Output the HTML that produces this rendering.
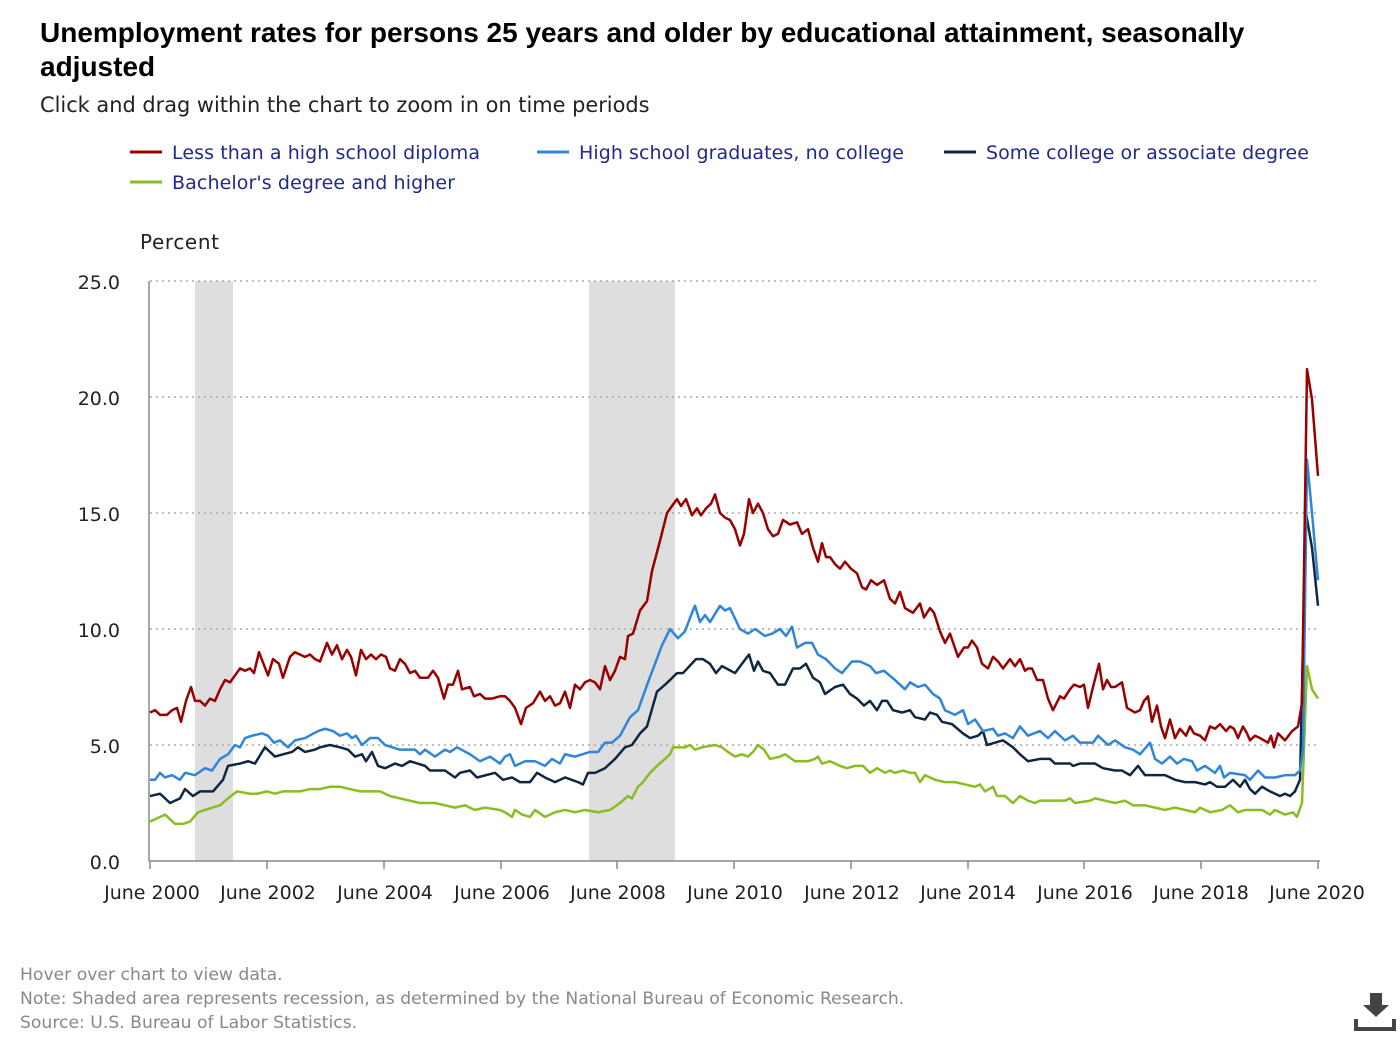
<!DOCTYPE html>
<html><head><meta charset="utf-8"><style>
body{margin:0;width:1400px;height:1040px;background:#fff;font-family:"Liberation Sans",sans-serif;overflow:hidden;position:relative}
.t{position:absolute;white-space:nowrap}
</style></head><body>
<div class="t" style="left:40px;top:16px;font-size:28px;font-weight:bold;line-height:34px;color:#000">Unemployment rates for persons 25 years and older by educational attainment, seasonally<br>adjusted</div>
<div class="t" style="left:40px;top:93px;font-size:20.9px;color:#222;font-family:'DejaVu Sans',sans-serif">Click and drag within the chart to zoom in on time periods</div>
<svg width="1400" height="1040" style="position:absolute;left:0;top:0" font-family="DejaVu Sans, sans-serif">
<g font-size="19" fill="#1f2a8c">
<line x1="130" y1="152" x2="162" y2="152" stroke="#990000" stroke-width="3"/><text x="172" y="159" textLength="308">Less than a high school diploma</text>
<line x1="537" y1="152" x2="569" y2="152" stroke="#2f86d9" stroke-width="3"/><text x="579" y="159" textLength="325">High school graduates, no college</text>
<line x1="944" y1="152" x2="976" y2="152" stroke="#0f2740" stroke-width="3"/><text x="986" y="159" textLength="323">Some college or associate degree</text>
<line x1="130" y1="182" x2="162" y2="182" stroke="#8abd22" stroke-width="3"/><text x="172" y="189" textLength="283">Bachelor's degree and higher</text>
</g>
<text x="140" y="249" font-size="20" fill="#222" textLength="79">Percent</text>
<rect x="195" y="281" width="38" height="580" fill="#dedede"/>
<rect x="589" y="281" width="86" height="580" fill="#dedede"/>
<g stroke="#aaa" stroke-width="1.5" stroke-dasharray="2,4">
<line x1="150" y1="281" x2="1320" y2="281"/><line x1="150" y1="397" x2="1320" y2="397"/><line x1="150" y1="513" x2="1320" y2="513"/><line x1="150" y1="629" x2="1320" y2="629"/><line x1="150" y1="745" x2="1320" y2="745"/>
</g>
<line x1="149" y1="281" x2="149" y2="861" stroke="#888" stroke-width="1.5"/>
<line x1="149" y1="861" x2="1320" y2="861" stroke="#888" stroke-width="1.5"/>
<g font-size="19" fill="#222" text-anchor="end">
<text x="120" y="289">25.0</text><text x="120" y="405">20.0</text><text x="120" y="521">15.0</text><text x="120" y="637">10.0</text><text x="120" y="753">5.0</text><text x="120" y="869">0.0</text>
</g>
<g stroke="#888" stroke-width="1.5">
<line x1="150" y1="861" x2="150" y2="869"/><line x1="267" y1="861" x2="267" y2="869"/><line x1="384" y1="861" x2="384" y2="869"/><line x1="501" y1="861" x2="501" y2="869"/><line x1="617" y1="861" x2="617" y2="869"/><line x1="734" y1="861" x2="734" y2="869"/><line x1="851" y1="861" x2="851" y2="869"/><line x1="968" y1="861" x2="968" y2="869"/><line x1="1084" y1="861" x2="1084" y2="869"/><line x1="1201" y1="861" x2="1201" y2="869"/><line x1="1318" y1="861" x2="1318" y2="869"/>
</g>
<g font-size="19" fill="#222" text-anchor="middle">
<text x="152" y="899">June 2000</text><text x="268" y="899">June 2002</text><text x="385" y="899">June 2004</text><text x="502" y="899">June 2006</text><text x="618" y="899">June 2008</text><text x="735" y="899">June 2010</text><text x="852" y="899">June 2012</text><text x="968" y="899">June 2014</text><text x="1085" y="899">June 2016</text><text x="1201" y="899">June 2018</text><text x="1317" y="899">June 2020</text>
</g>
<g transform="translate(0,861) scale(1,-23.2)" fill="none" stroke-width="2.5" stroke-linejoin="round">
<polyline vector-effect="non-scaling-stroke" stroke="#8abd22" points="150,1.7 155,1.8 165,2.0 175,1.6 183,1.6 190,1.7 198,2.1 205,2.2 212,2.3 220,2.4 228,2.7 237,3.0 250,2.9 257,2.9 267,3.0 275,2.9 283,3.0 300,3.0 310,3.1 320,3.1 330,3.2 340,3.2 350,3.1 360,3.0 380,3.0 390,2.8 400,2.7 410,2.6 420,2.5 435,2.5 445,2.4 455,2.3 465,2.4 475,2.2 485,2.3 500,2.2 505,2.1 512,1.9 515,2.2 522,2.0 530,1.9 535,2.2 545,1.9 555,2.1 565,2.2 575,2.1 585,2.2 598,2.1 610,2.2 620,2.5 628,2.8 632,2.7 638,3.2 643,3.4 650,3.8 657,4.1 665,4.4 670,4.6 673,4.9 685,4.9 690,5.0 695,4.8 702,4.9 715,5.0 722,4.9 728,4.7 735,4.5 742,4.6 748,4.5 753,4.7 758,5.0 764,4.8 770,4.4 780,4.5 785,4.6 795,4.3 808,4.3 815,4.4 818,4.5 822,4.2 830,4.3 840,4.1 847,4.0 855,4.1 863,4.1 870,3.8 877,4.0 885,3.8 890,3.9 895,3.8 903,3.9 910,3.8 915,3.8 920,3.4 925,3.7 935,3.5 945,3.4 955,3.4 965,3.3 975,3.2 980,3.3 985,3.0 993,3.2 997,2.8 1005,2.8 1013,2.5 1020,2.8 1028,2.6 1035,2.5 1040,2.6 1055,2.6 1065,2.6 1070,2.7 1075,2.5 1090,2.6 1095,2.7 1105,2.6 1115,2.5 1125,2.6 1133,2.4 1145,2.4 1155,2.3 1165,2.2 1175,2.3 1185,2.2 1195,2.1 1200,2.3 1210,2.1 1222,2.2 1230,2.4 1238,2.1 1245,2.2 1262,2.2 1270,2.0 1275,2.2 1285,2.0 1293,2.1 1297,1.9 1302,2.5 1307,8.4 1312,7.4 1318,7.0"/>
<polyline vector-effect="non-scaling-stroke" stroke="#0f2740" points="150,2.8 160,2.9 170,2.5 180,2.7 185,3.1 193,2.8 200,3.0 213,3.0 223,3.5 228,4.1 240,4.2 248,4.3 255,4.2 262,4.7 265,4.9 275,4.5 283,4.6 292,4.7 298,4.9 305,4.7 315,4.8 320,4.9 330,5.0 340,4.9 348,4.8 355,4.5 362,4.6 366,4.3 372,4.7 378,4.1 385,4.0 395,4.2 402,4.1 410,4.3 425,4.1 430,3.9 445,3.9 455,3.6 460,3.8 470,3.9 477,3.6 495,3.8 503,3.5 512,3.6 520,3.4 530,3.4 537,3.8 545,3.6 555,3.4 565,3.6 578,3.4 583,3.3 588,3.8 595,3.8 605,4.0 615,4.4 625,4.9 632,5.0 640,5.5 647,5.8 657,7.3 665,7.6 670,7.8 677,8.1 683,8.1 696,8.7 703,8.7 710,8.5 716,8.1 722,8.4 735,8.1 742,8.5 749,8.9 754,8.2 758,8.6 763,8.2 770,8.1 778,7.6 785,7.6 793,8.3 800,8.3 806,8.5 813,7.9 820,7.7 825,7.2 835,7.5 843,7.6 850,7.2 857,7.0 864,6.7 870,6.9 877,6.5 882,6.9 887,6.9 893,6.5 902,6.4 910,6.5 915,6.2 925,6.1 930,6.4 937,6.3 942,6.0 952,5.9 963,5.5 970,5.3 978,5.4 983,5.6 987,5.0 995,5.1 1003,5.2 1013,4.9 1020,4.6 1028,4.3 1040,4.4 1050,4.4 1055,4.2 1070,4.2 1073,4.1 1080,4.2 1095,4.2 1103,4.0 1115,3.9 1122,3.9 1130,3.7 1138,4.1 1145,3.7 1155,3.7 1165,3.7 1175,3.5 1185,3.4 1195,3.4 1205,3.3 1210,3.4 1217,3.2 1225,3.2 1233,3.5 1240,3.2 1245,3.5 1250,3.1 1255,2.9 1262,3.2 1270,3.0 1280,2.8 1285,2.9 1290,2.8 1295,3.0 1300,3.5 1306,15.0 1312,13.5 1318,11.0"/>
<polyline vector-effect="non-scaling-stroke" stroke="#2f86d9" points="150,3.5 155,3.5 160,3.8 165,3.6 172,3.7 180,3.5 185,3.8 195,3.7 205,4.0 212,3.9 220,4.4 228,4.6 235,5.0 240,4.9 245,5.3 252,5.4 262,5.5 268,5.4 274,5.1 280,5.2 288,4.9 295,5.2 305,5.3 318,5.6 325,5.7 333,5.6 340,5.4 347,5.5 352,5.3 356,5.4 362,5.0 370,5.3 378,5.3 385,5.0 400,4.8 415,4.8 420,4.6 425,4.8 435,4.5 445,4.8 450,4.7 457,4.9 470,4.6 480,4.3 490,4.5 500,4.2 505,4.5 510,4.6 515,4.1 525,4.3 535,4.3 545,4.1 552,4.4 560,4.2 565,4.6 575,4.5 590,4.7 598,4.7 605,5.1 612,5.1 620,5.4 630,6.2 638,6.5 648,7.7 655,8.5 662,9.3 670,10.0 678,9.6 685,9.9 692,10.7 695,11.0 700,10.3 705,10.6 710,10.3 720,11.0 725,10.8 730,10.9 740,10.0 748,9.8 755,10.0 765,9.7 772,9.8 780,10.0 786,9.7 792,10.1 797,9.2 805,9.4 812,9.4 818,8.9 826,8.7 835,8.3 842,8.1 852,8.6 860,8.6 870,8.4 876,8.1 884,8.2 895,7.8 905,7.4 910,7.7 918,7.5 925,7.6 933,7.2 940,7.0 945,6.5 955,6.3 963,6.5 968,5.9 975,6.1 983,5.6 993,5.7 998,5.4 1005,5.5 1013,5.3 1020,5.8 1028,5.4 1040,5.6 1048,5.3 1055,5.6 1065,5.2 1073,5.4 1080,5.1 1093,5.1 1098,5.4 1108,5.0 1115,5.2 1125,4.9 1133,4.8 1140,4.6 1150,5.1 1155,4.4 1162,4.2 1170,4.5 1177,4.2 1184,4.4 1192,4.3 1197,3.9 1205,4.1 1215,3.8 1220,4.1 1224,3.6 1230,3.8 1245,3.7 1250,3.5 1258,3.9 1265,3.6 1275,3.6 1285,3.7 1295,3.7 1300,3.9 1303,4.8 1307,17.3 1312,15.0 1318,12.1"/>
<polyline vector-effect="non-scaling-stroke" stroke="#990000" points="150,6.4 155,6.5 160,6.3 167,6.3 172,6.5 177,6.6 181,6.0 186,6.9 191,7.5 195,6.9 200,6.9 205,6.7 210,7.0 215,6.9 220,7.4 225,7.8 230,7.7 240,8.3 245,8.2 250,8.3 254,8.1 259,9.0 268,8.0 273,8.7 279,8.5 283,7.9 290,8.8 295,9.0 305,8.8 310,8.9 315,8.7 320,8.6 327,9.4 332,8.9 337,9.3 342,8.7 347,9.1 351,8.8 356,8.0 361,9.1 366,8.7 371,8.9 376,8.7 381,8.9 386,8.8 390,8.3 395,8.2 400,8.7 405,8.5 410,8.1 415,8.2 420,7.9 428,7.9 433,8.2 438,7.9 444,7.0 448,7.6 453,7.6 458,8.2 462,7.4 470,7.5 474,7.1 480,7.2 485,7.0 492,7.0 500,7.1 505,7.1 510,6.9 515,6.6 521,5.9 526,6.6 533,6.8 540,7.3 545,6.9 550,7.1 555,6.7 560,6.8 565,7.3 570,6.6 575,7.6 580,7.4 585,7.7 590,7.8 595,7.7 600,7.4 605,8.4 610,7.8 615,8.2 620,8.8 625,8.7 628,9.7 633,9.8 640,10.8 647,11.2 652,12.5 660,13.8 667,15.0 672,15.3 677,15.6 681,15.3 686,15.6 692,14.9 697,15.2 701,14.9 706,15.2 711,15.4 715,15.8 720,15.0 725,14.8 730,14.7 735,14.3 740,13.6 744,14.1 749,15.6 753,15.0 758,15.4 763,15.0 768,14.3 773,14.0 778,14.1 783,14.7 790,14.5 797,14.6 802,14.1 808,14.3 813,13.5 818,12.9 822,13.7 826,13.1 830,13.1 835,12.8 840,12.6 845,12.9 851,12.6 857,12.4 862,11.8 866,11.7 871,12.1 877,11.9 884,12.1 890,11.3 895,11.1 900,11.6 905,10.9 913,10.7 920,11.1 924,10.5 930,10.9 934,10.7 940,9.9 945,9.4 950,9.8 954,9.3 958,8.8 964,9.2 968,9.2 972,9.5 977,9.2 982,8.5 988,8.3 993,8.8 998,8.6 1003,8.3 1010,8.7 1015,8.4 1020,8.7 1025,8.2 1028,8.3 1032,8.3 1037,7.8 1043,7.8 1048,7.0 1053,6.5 1060,7.1 1064,7.0 1070,7.4 1074,7.6 1080,7.5 1084,7.6 1088,6.6 1093,7.5 1099,8.5 1103,7.4 1107,7.8 1111,7.5 1115,7.5 1122,7.7 1127,6.6 1131,6.5 1135,6.4 1140,6.5 1144,6.9 1148,7.1 1152,6.0 1157,6.7 1161,5.8 1165,5.3 1170,6.1 1175,5.3 1180,5.7 1186,5.4 1190,5.8 1194,5.5 1200,5.4 1205,5.2 1210,5.8 1215,5.7 1220,5.9 1226,5.6 1230,5.8 1234,5.7 1238,5.3 1243,5.8 1247,5.5 1250,5.2 1255,5.4 1260,5.3 1268,5.1 1271,5.4 1274,4.9 1278,5.5 1285,5.2 1292,5.6 1298,5.8 1302,6.8 1307,21.2 1312,19.9 1318,16.6"/>
</g>
<g stroke="#444" stroke-width="4" fill="none"><path d="M1356,1019 v10 h38 v-10"/></g>
<path d="M1370,993 h12 v12 h7 l-13,12 l-13,-12 h7 z" fill="#444"/>
</svg>
<div class="t" style="left:20px;top:963px;font-size:17.2px;line-height:24px;color:#888;font-family:'DejaVu Sans',sans-serif">Hover over chart to view data.<br>Note: Shaded area represents recession, as determined by the National Bureau of Economic Research.<br>Source: U.S. Bureau of Labor Statistics.</div>
</body></html>
